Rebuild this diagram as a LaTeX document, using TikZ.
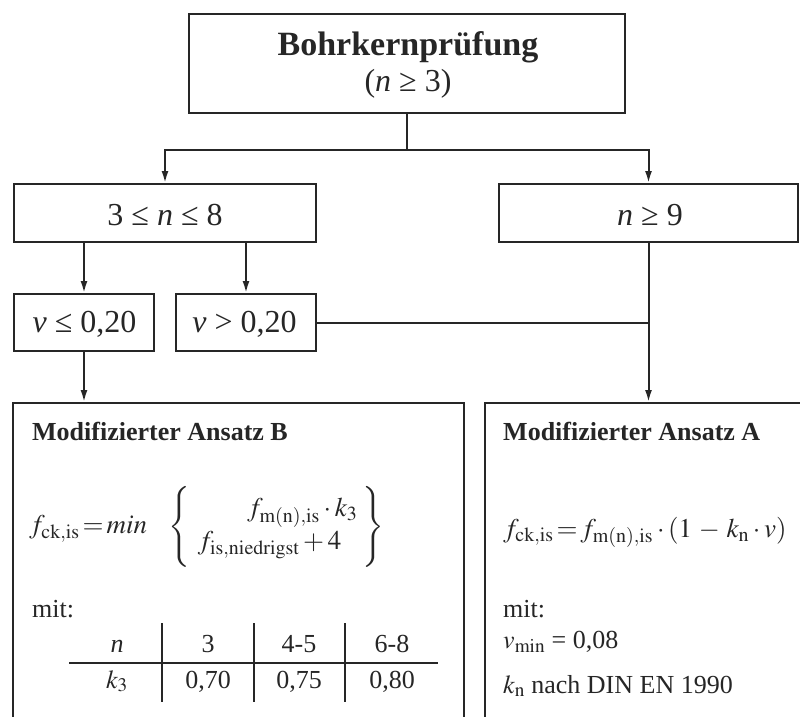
\documentclass[tikz,border=0pt]{standalone}
\usepackage{mathptmx}
\usepackage{fontspec}
\setmainfont{Liberation Serif}
\usetikzlibrary{arrows.meta,calc}
\definecolor{ink}{HTML}{262626}
\tikzset{
  box/.style={draw=ink, line width=2pt, rectangle, inner sep=0pt},
  conn/.style={draw=ink, line width=2pt},
  rule/.style={draw=ink, line width=1.6pt},
  arr/.style={conn, -{Latex[length=12pt,width=7pt]}},
  txt/.style={inner sep=0pt, text=ink},
  big/.style={txt, font=\fontsize{32}{37}\selectfont},
  body/.style={txt, font=\fontsize{26}{31}\selectfont},
  form/.style={txt, font=\fontsize{27}{32}\selectfont},
  head/.style={txt, font=\fontsize{26}{31}\selectfont\bfseries},
}
\begin{document}
\begin{tikzpicture}[x=1pt,y=-1pt]
\useasboundingbox (0,0) rectangle (800,717);
\clip (0,0) rectangle (800,717);
% boxes
\node[box, minimum width=436pt, minimum height=99pt] (top) at (407,63.5) {};
\node[txt, anchor=base, font=\fontsize{34}{40}\selectfont\bfseries] (toptitle) at (408,56) {Bohrkernprüfung};
\node[txt, anchor=base, font=\fontsize{32}{37}\selectfont] (topcond) at (408,91) {(\textit{n} ≥ 3)};
\node[box, minimum width=302pt, minimum height=58pt] (L1) at (165,213) {};
\node[big, anchor=base] (L1t) at (165,225) {3 ≤ \textit{n} ≤ 8};
\node[box, minimum width=299pt, minimum height=58pt] (R1) at (648.5,213) {};
\node[big, anchor=base] (R1t) at (650,225) {\textit{n} ≥ 9};
\node[box, minimum width=140pt, minimum height=57pt] (V1) at (84,322.5) {};
\node[big, anchor=base] (V1t) at (84.5,332) {\textit{v} ≤ 0,20};
\node[box, minimum width=140pt, minimum height=57pt] (V2) at (246,322.5) {};
\node[big, anchor=base] (V2t) at (244.5,332) {\textit{v} > 0,20};
\node[box, minimum width=451pt, minimum height=340pt] (BL) at (238.5,573) {};
\node[box, minimum width=340pt, minimum height=340pt] (BR) at (655,573) {};
% connectors
\coordinate (split) at ($(top.south)+(0,36)$);
\draw[conn] (top.south) -- (split);
\draw[arr] (split) -| (L1.north);
\draw[arr] (split) -| (R1.north);
\draw[arr] (V1.north |- L1.south) -- (V1.north);
\draw[arr] (V2.north |- L1.south) -- (V2.north);
\draw[arr] (V1.south) -- (V1.south |- BL.north);
\draw[arr] (R1.south) -- (R1.south |- BR.north);
\draw[conn] (V2.east) -- (V2.east -| R1.south);
% Ansatz B
\node[head, anchor=base west] (Btitle) at (32,440) {Modifizierter Ansatz B};
\node[form, anchor=west] (Bform) at (29,527) {$f_{\mathrm{ck,is}}\,{=}\,\mathit{min}\;\;\;\left\{\rule[-31pt]{0pt}{74pt}\,\begin{array}{r} f_{\mathrm{m(n),is}}\cdot k_3 \\ f_{\mathrm{is,niedrigst}}+4\hspace{16pt}\end{array}\right\}$};
\node[body, anchor=base west] (Bmit) at (32,617) {mit:};
\draw[rule] (69,663) -- (438,663);
\draw[rule] (162,623) -- (162,702);
\draw[rule] (254,623) -- (254,702);
\draw[rule] (345,623) -- (345,702);
\node[body, anchor=base] (tn) at (117,652) {\textit{n}};
\node[body, anchor=base] (t1) at (208,652) {3};
\node[body, anchor=base] (t2) at (299,652) {4-5};
\node[body, anchor=base] (t3) at (392,652) {6-8};
\node[body, anchor=base] (tk) at (117,688) {$k_3$};
\node[body, anchor=base] (u1) at (208,688) {0,70};
\node[body, anchor=base] (u2) at (299,688) {0,75};
\node[body, anchor=base] (u3) at (392,688) {0,80};
% Ansatz A
\node[head, anchor=base west] (Atitle) at (503,440) {Modifizierter Ansatz A};
\node[form, anchor=base west] (Aform) at (503,537) {$f_{\mathrm{ck,is}}\,{=}\,f_{\mathrm{m(n),is}}\cdot(1\,-\,k_{\mathrm{n}}\cdot v)$};
\node[body, anchor=base west] (Amit) at (503,617) {mit:};
\node[body, anchor=base west] (Avmin) at (503,648) {$v_{\mathrm{min}}$ = 0,08};
\node[body, anchor=base west] (Akn) at (503,693) {$k_{\mathrm{n}}$ nach DIN EN 1990};
\end{tikzpicture}
\end{document}
